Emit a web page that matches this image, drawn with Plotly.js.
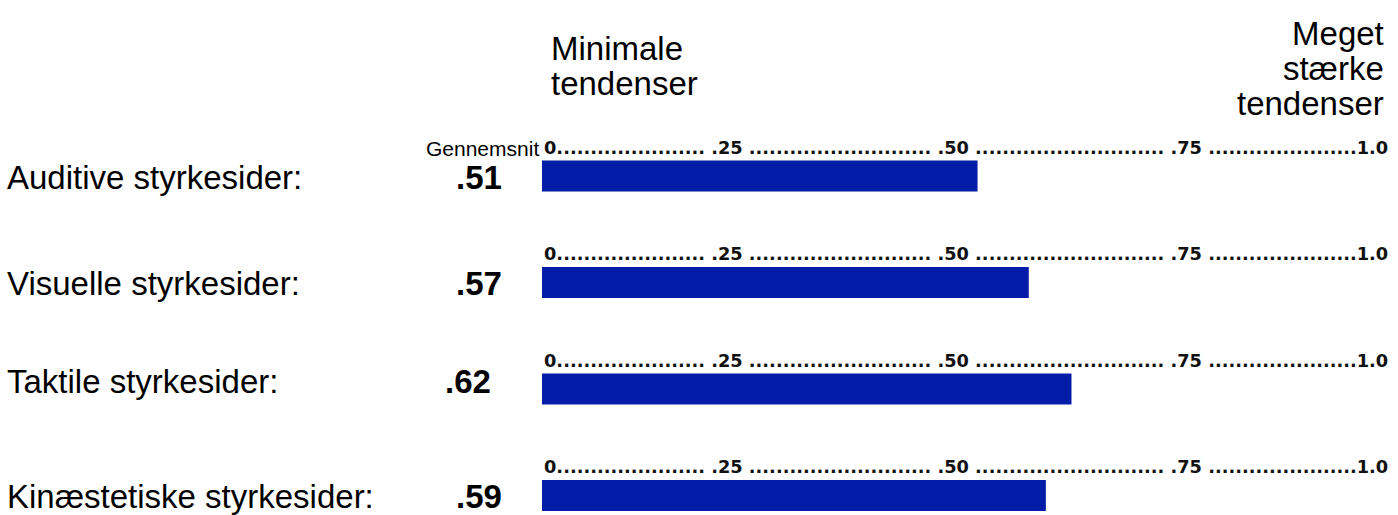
<!DOCTYPE html>
<html>
<head>
<meta charset="utf-8">
<script src="https://cdn.plot.ly/plotly-3.0.1.min.js"></script>
<style>html,body{margin:0;padding:0;background:#fff;}#chart{width:1398px;height:515px;}</style>
</head>
<body>
<div id="chart"></div>
<script>
// ---- data ----
const categories = ["Auditive styrkesider:", "Visuelle styrkesider:", "Taktile styrkesider:", "Kinæstetiske styrkesider:"];
const values = [0.51, 0.57, 0.62, 0.59];
const valueLabels = [".51", ".57", ".62", ".59"];
const scaleLabels = ["0", ".25", ".50", ".75", "1.0"];
const headerLeft = ["Minimale", "tendenser"];
const headerRight = ["Meget", "stærke", "tendenser"];
const avgLabel = "Gennemsnit";

// ---- layout helpers (pixel geometry) ----
const W = 1398, H = 515, ML = 542, MR = 2, MT = 100, MB = 0;
const PW = W - ML - MR, PH = H - MT - MB;
const px2x = px => (px - ML) / PW;
const py2y = py => (H - MB - py) / PH;

const d = n => ".".repeat(n);
const scaleText = scaleLabels[0] + d(22) + " " + scaleLabels[1] + " " + d(27) + " " +
  scaleLabels[2] + " " + d(28) + " " + scaleLabels[3] + " " + d(22) + scaleLabels[4];

const labelFont = {family: "Liberation Sans, Arial, sans-serif", size: 33, color: "#000"};
const annotations = [];
categories.forEach((c, i) => {
  const dy = (i === 2) ? 8 : -1;
  annotations.push({xref: "paper", yref: "y", x: px2x(5), y: c, xanchor: "left", yanchor: "middle",
    text: c, showarrow: false, font: labelFont, yshift: dy});
  annotations.push({xref: "paper", yref: "y", x: px2x(i === 2 ? 493 : 504), y: c, xanchor: "right", yanchor: "middle",
    text: "<b>" + valueLabels[i] + "</b>", showarrow: false, font: labelFont, yshift: dy});
  annotations.push({xref: "x", yref: "y", x: 0, y: c, xanchor: "left", yanchor: "middle",
    text: "<b>" + scaleText + "</b>", showarrow: false, yshift: 29,
    font: {family: "DejaVu Sans, sans-serif", size: 17.8, color: "#111"}});
});
annotations.push({xref: "paper", yref: "y", x: px2x(541), y: categories[0], xanchor: "right", yanchor: "middle",
  text: avgLabel, showarrow: false, yshift: 28,
  font: {family: "Liberation Sans, Arial, sans-serif", size: 21, color: "#000"}});

// header: line spacing is 1.3em of the base size (27px), glyphs drawn at 33px
const big = t => '<span style="font-size:33px">' + t + '</span>';
const headerFont = {family: "Liberation Sans, Arial, sans-serif", size: 27, color: "#000"};
annotations.push({xref: "paper", yref: "paper", x: px2x(549), y: py2y(66), xanchor: "left", yanchor: "middle",
  align: "left", text: headerLeft.map(big).join("<br>"), showarrow: false, font: headerFont});
annotations.push({xref: "paper", yref: "paper", x: px2x(1386), y: py2y(68), xanchor: "right", yanchor: "middle",
  align: "right", text: headerRight.map(big).join("<br>"), showarrow: false, font: headerFont});

const trace = {
  type: "bar", orientation: "h",
  y: categories, x: values,
  width: 0.29,
  marker: {color: "#031ca8", line: {width: 0}},
  hoverinfo: "none"
};

const layout = {
  width: W, height: H,
  margin: {l: ML, r: MR, t: MT, b: MB, pad: 0},
  paper_bgcolor: "#fff", plot_bgcolor: "#fff",
  showlegend: false,
  xaxis: {range: [0, 1], visible: false, fixedrange: true},
  yaxis: {type: "category", categoryarray: categories, range: [3.183, -0.714], visible: false, fixedrange: true},
  annotations: annotations
};

Plotly.newPlot("chart", [trace], layout, {displayModeBar: false, staticPlot: true});
</script>
</body>
</html>
